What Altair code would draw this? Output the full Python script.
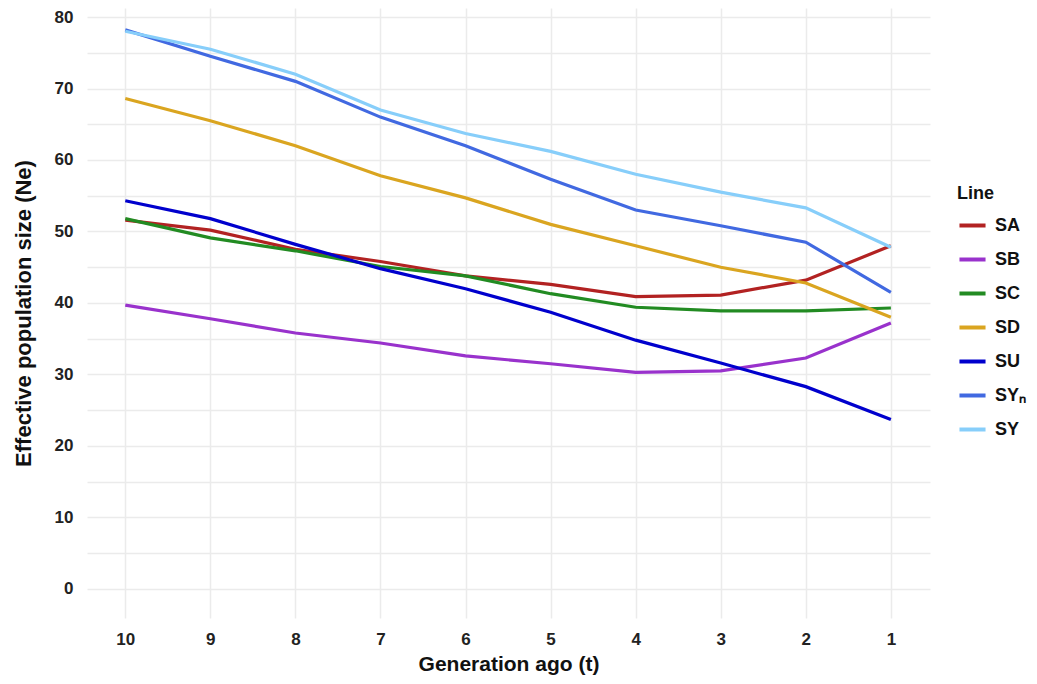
import altair as alt
import pandas as pd

generations = [10, 9, 8, 7, 6, 5, 4, 3, 2, 1]
lines = ["SA", "SB", "SC", "SD", "SU", "SYₙ", "SY"]
colors = ["#B22222", "#9932CC", "#228B22", "#DAA520", "#0000CD", "#4169E1", "#87CEFA"]

sa = [51.6, 50.2, 47.5, 45.8, 43.8, 42.6, 40.9, 41.1, 43.2, 48.0]
sb = [39.7, 37.8, 35.8, 34.4, 32.6, 31.5, 30.3, 30.5, 32.3, 37.2]
sc = [51.8, 49.1, 47.3, 45.1, 43.8, 41.3, 39.4, 38.9, 38.9, 39.3]
sd = [68.6, 65.5, 62.0, 57.8, 54.7, 51.0, 48.0, 45.0, 42.8, 38.0]
su = [54.3, 51.8, 48.2, 44.8, 42.0, 38.7, 34.8, 31.6, 28.3, 23.7]
syn = [78.2, 74.5, 71.0, 66.0, 62.0, 57.3, 53.0, 50.8, 48.5, 41.5]
sy = [78.0, 75.5, 72.0, 67.0, 63.7, 61.2, 58.0, 55.5, 53.3, 47.8]

series = [sa, sb, sc, sd, su, syn, sy]
rows = []
for name, vals in zip(lines, series):
    for g, v in zip(generations, vals):
        rows.append({"Generation": g, "Ne": v, "Line": name})
df = pd.DataFrame(rows)

x_vals = [i / 2 for i in range(2, 21)]
y_vals = list(range(0, 81, 5))

font = "Liberation Sans"

chart = alt.Chart(df).mark_line(strokeWidth=3.2).encode(
    x=alt.X("Generation:Q",
            scale=alt.Scale(domain=[10.45, 0.54], nice=False, zero=False),
            axis=alt.Axis(values=x_vals, format="d",
                          labelExpr="datum.value % 1 == 0 ? datum.label : ''",
                          title="Generation ago (t)", titlePadding=6, labelPadding=13,
                          titleFontSize=21)),
    y=alt.Y("Ne:Q",
            scale=alt.Scale(domain=[-4.06, 81.26], nice=False, zero=False),
            axis=alt.Axis(values=y_vals, format="d",
                          labelExpr="datum.value % 10 == 0 ? datum.label : ''",
                          title="Effective population size (Ne)", titlePadding=19, labelPadding=14)),
    color=alt.Color("Line:N", sort=lines,
                    scale=alt.Scale(domain=lines, range=colors),
                    legend=alt.Legend(title="Line", orient="none", legendX=870, legendY=177,
                                      symbolType="stroke", symbolStrokeWidth=4, symbolSize=680,
                                      labelFontSize=18, labelFont=font, labelFontWeight="bold",
                                      labelColor="#111111", labelOffset=7,
                                      titleFontSize=18, titleFont=font, titleFontWeight="bold",
                                      titleColor="#111111", rowPadding=9, titlePadding=7)),
    order=alt.Order("Generation:Q", sort="descending"),
).properties(
    width=843, height=610,
    padding={"left": 79, "top": 0, "right": 99, "bottom": 58},
    autosize=alt.AutoSizeParams(type="none"),
).configure_axis(
    grid=True, gridColor="#EBEBEB", gridWidth=1.5, domain=False, ticks=False,
    labelFont=font, labelFontSize=17, labelFontWeight="bold", labelColor="#222222",
    titleFont=font, titleFontSize=22, titleFontWeight="bold", titleColor="#111111",
).configure_view(stroke=None)

chart.save("out.html", embed_options={"renderer": "svg", "actions": False})
